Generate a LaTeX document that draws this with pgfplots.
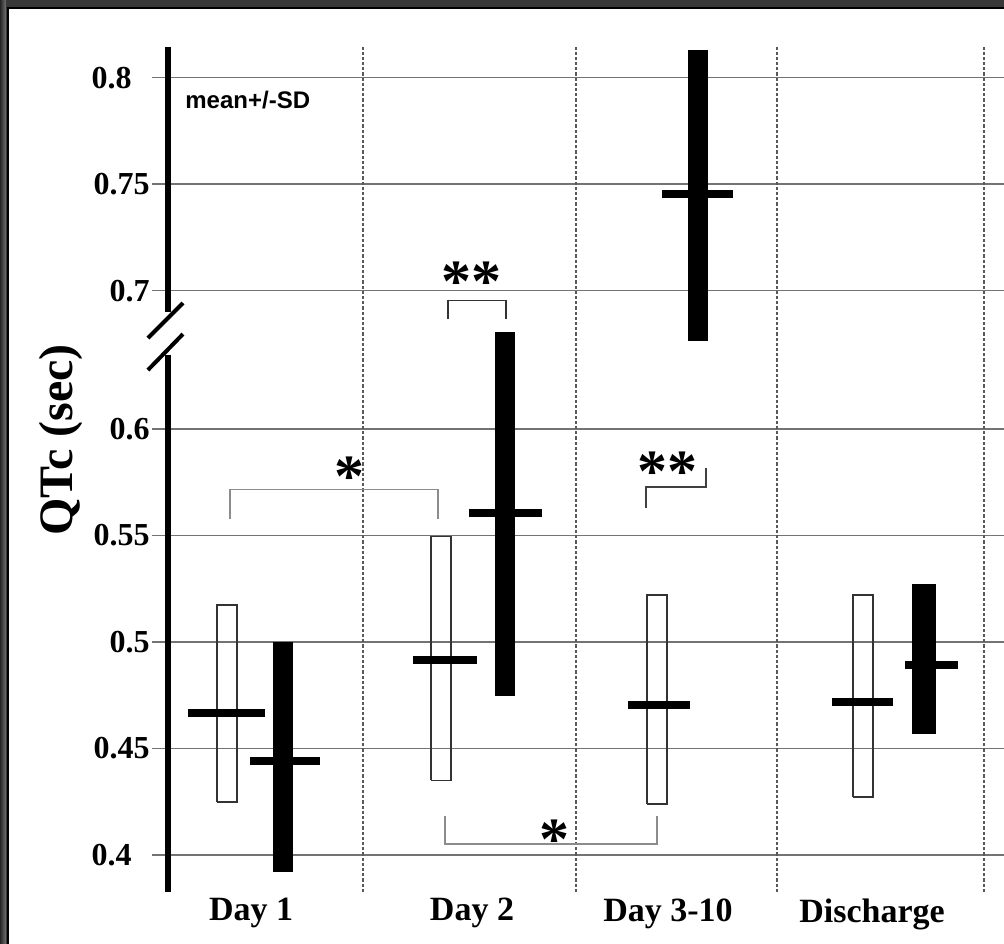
\documentclass[border=0pt]{standalone}
\usepackage{pgfplots}
\pgfplotsset{compat=1.18}
\usepackage{fontspec}
\setmainfont{Liberation Serif}
\newfontfamily\arial{Liberation Sans}

\begin{document}
\begin{tikzpicture}
% frame (1px = 0.5pt, axis origin at lower left of the axis)
\fill[black!78] (-84pt,-27pt) rectangle (420pt,446pt);
\shade[left color=black!85, right color=black!55] (-84pt,-27pt) rectangle (-81pt,446pt);
\fill[white] (-80pt,-27pt) rectangle (420pt,442pt);
\draw[black, line width=1pt] (-80pt,-27pt) -- (-80pt,442pt) -- (420pt,442pt);

\begin{axis}[
    scale only axis,
    width=416pt, height=422.5pt,
    xmin=0, xmax=4.0585,
    ymin=0.3826, ymax=0.7794,
    clip=false,
    axis line style={draw=none},
    % broken axis: values above 0.66 are shifted down
    y filter/.expression={y>0.66 ? y-0.035 : y},
    ytick={0.4,0.45,0.5,0.55,0.6,0.665,0.715,0.765},
    yticklabels={0.4\hspace*{9pt},0.45,0.5,0.55,0.6,0.7,0.75,0.8\hspace*{9pt}},
    ymajorgrids,
    major grid style={black!55, line width=0.8pt},
    tick align=outside,
    major tick length=8pt,
    ytick style={black!55, line width=0.8pt},
    yticklabel style={font=\bfseries\fontsize{16}{16}\selectfont, anchor=east, inner sep=1pt},
    xtick={0.405,1.483,2.439,3.434},
    xticklabels={Day 1, Day 2, Day 3-10, Discharge},
    xtick style={draw=none},
    xticklabel style={font=\bfseries\fontsize{17}{17}\selectfont, anchor=north, inner sep=0pt, yshift=5pt},
    extra x ticks={0.951,1.990,2.971,3.980},
    extra x tick labels={},
    extra x tick style={grid=major, major grid style={black!65, line width=0.6pt, dash pattern=on 1.6pt off 1pt}},
]

% Day 1
\addplot[draw=black!80, line width=0.7pt] coordinates {(0.239,0.4248) (0.337,0.4248) (0.337,0.5173) (0.239,0.5173) (0.239,0.4248)};
\addplot[fill=black, draw=none] coordinates {(0.512,0.392) (0.610,0.392) (0.610,0.500) (0.512,0.500)};
\addplot[black, line width=4pt] coordinates {(0.098,0.4667) (0.473,0.4667)};
\addplot[black, line width=4pt] coordinates {(0.400,0.444) (0.741,0.444)};

% Day 2
\addplot[draw=black!80, line width=0.7pt] coordinates {(1.283,0.435) (1.380,0.435) (1.380,0.5495) (1.283,0.5495) (1.283,0.435)};
\addplot[fill=black, draw=none] coordinates {(1.595,0.4748) (1.693,0.4748) (1.693,0.6457) (1.595,0.6457)};
\addplot[black, line width=4pt] coordinates {(1.195,0.4914) (1.507,0.4914)};
\addplot[black, line width=4pt] coordinates {(1.468,0.5605) (1.824,0.5605)};

% Day 3-10
\addplot[draw=black!80, line width=0.7pt] coordinates {(2.337,0.4239) (2.434,0.4239) (2.434,0.5221) (2.337,0.5221) (2.337,0.4239)};
\addplot[fill=black, draw=none] coordinates {(2.537,0.6764) (2.634,0.6764) (2.634,0.813) (2.537,0.813)};
\addplot[black, line width=4pt] coordinates {(2.244,0.4705) (2.546,0.4705)};
\addplot[black, line width=4pt] coordinates {(2.410,0.7454) (2.756,0.7454)};

% Discharge
\addplot[draw=black!80, line width=0.7pt] coordinates {(3.341,0.4273) (3.439,0.4273) (3.439,0.5221) (3.341,0.5221) (3.341,0.4273)};
\addplot[fill=black, draw=none] coordinates {(3.629,0.4567) (3.746,0.4567) (3.746,0.5274) (3.629,0.5274)};
\addplot[black, line width=4pt] coordinates {(3.239,0.4719) (3.537,0.4719)};
\addplot[black, line width=4pt] coordinates {(3.595,0.489) (3.854,0.489)};

% significance brackets
\addplot[black!45, line width=0.9pt] coordinates {(0.302,0.5577) (0.302,0.5716) (1.317,0.5716) (1.317,0.5577)};
\addplot[black!80, line width=0.9pt] coordinates {(1.366,0.6866) (1.366,0.6954) (1.649,0.6954) (1.649,0.6866)};
\addplot[black!75, line width=0.9pt] coordinates {(2.332,0.563) (2.332,0.5726) (2.624,0.5726) (2.624,0.5815)};
\addplot[black!45, line width=0.9pt] coordinates {(1.351,0.4184) (1.351,0.4051) (2.385,0.4051) (2.385,0.4184)};

\node[font=\bfseries\fontsize{30}{30}\selectfont, inner sep=0pt, yshift=-4.5pt] at (axis cs:0.885,0.5817) {*};
\node[font=\bfseries\fontsize{30}{30}\selectfont, inner sep=0pt, yshift=-4.5pt] at (axis cs:1.480,0.6732) {**};
\node[font=\bfseries\fontsize{30}{30}\selectfont, inner sep=0pt, yshift=-4.5pt] at (axis cs:2.437,0.5840) {**};
\node[font=\bfseries\fontsize{30}{30}\selectfont, inner sep=0pt, yshift=-4.5pt] at (axis cs:1.883,0.4113) {*};

% y axis line with break marks
\draw[black, line width=2.6pt] (axis cs:0,0.3826) -- (axis cs:0,0.6347);
\draw[black, line width=2.6pt] (axis cs:0,0.6549) -- (axis cs:0,0.7794);
\draw[black, line width=2pt] (axis cs:-0.098,0.6427) -- (axis cs:0.073,0.6592);
\draw[black, line width=2pt] (axis cs:-0.098,0.6277) -- (axis cs:0.073,0.6446);
\end{axis}

\node[anchor=base west, inner sep=0pt, font=\arial\bfseries\fontsize{12}{12}\selectfont] at (8.5pt,391.5pt) {mean+/-SD};
\node[rotate=90, inner sep=0pt, font=\bfseries\fontsize{24}{24}\selectfont] at (-53.5pt,226pt) {QTc (sec)};

\pgfresetboundingbox
\path[use as bounding box] (-84pt,-25.5pt) rectangle (418pt,446pt);
\end{tikzpicture}
\end{document}
